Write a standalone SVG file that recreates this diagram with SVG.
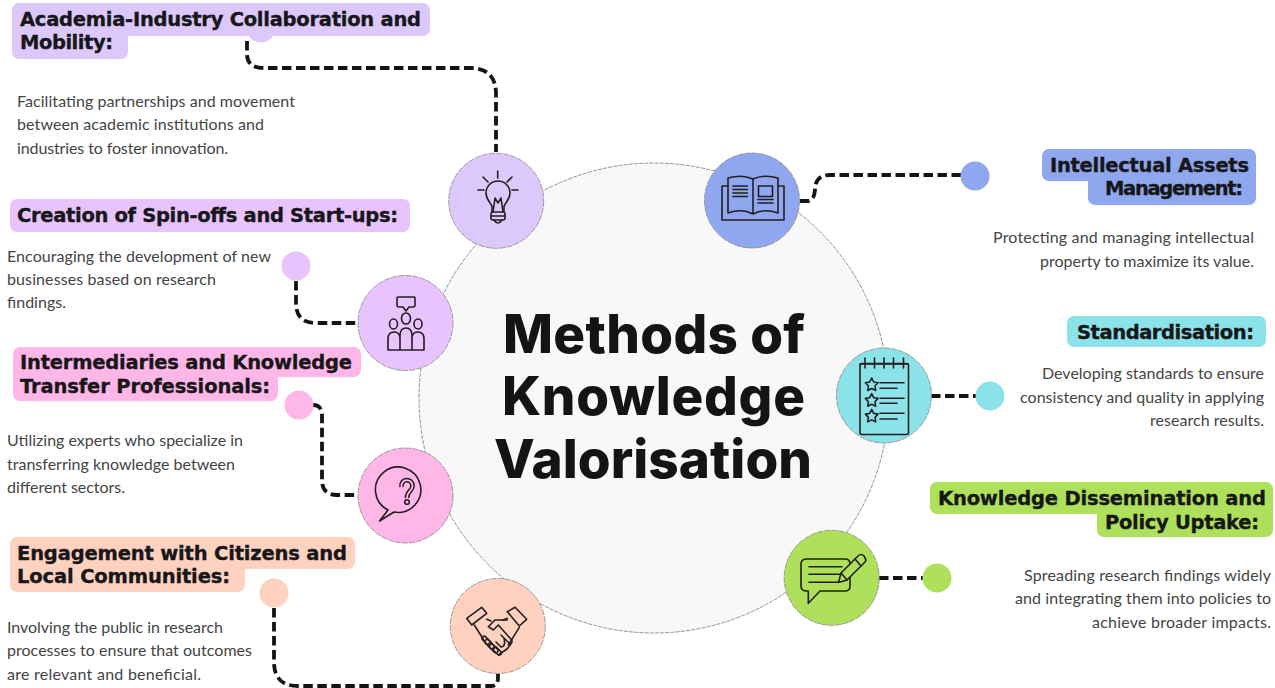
<svg xmlns="http://www.w3.org/2000/svg" width="1275" height="688" viewBox="0 0 1275 688">
<style>
.h{font-family:"DejaVu Sans","Liberation Sans",sans-serif;font-weight:700;font-size:19.5px;fill:#17171a;stroke:#17171a;stroke-width:.35}
.b{font-family:Lato,"Noto Sans",sans-serif;font-weight:400;font-size:16px;fill:#444}
.t{font-family:Inter,"Open Sans","Liberation Sans",sans-serif;font-weight:800;font-size:53px;fill:#141414}
.n{stroke:#888;stroke-width:.8;stroke-dasharray:6 1.2}
.i{fill:none;stroke:#231f20;stroke-width:1.6;stroke-linejoin:round;stroke-linecap:round}
.c{fill:none;stroke:#141414;stroke-width:3.8;stroke-dasharray:9.5 4.5}
</style>
<rect width="1275" height="688" fill="#fff"/>
<circle cx="654" cy="398" r="235" fill="#f8f8f8" stroke="#777" stroke-width=".8" stroke-dasharray="4 1.2"/>
<circle cx="261" cy="28" r="14.5" fill="#dcc8fb"/>
<g id="connectors">
<path class="c" d="M247 41V54Q247 68 264 68H470Q496 68 496 94V152"/>
<path class="c" d="M296 281V303Q296 323 316 323H358"/>
<path class="c" d="M313 405Q322 405 322 416V480Q322 495 337 495H358"/>
<path class="c" d="M274 608V662Q274 686 298 686H491Q498 686 498 678V674"/>
<path class="c" d="M800 201H808Q814 201 815 190Q815 175 830 175H961"/>
<path class="c" d="M931 396H976"/>
<path class="c" d="M879 578H923"/>
</g>
<g id="title">
<text class="t" x="503" y="353" textLength="302">Methods of</text>
<text class="t" x="502" y="415" textLength="303">Knowledge</text>
<text class="t" x="494" y="478" textLength="318">Valorisation</text>
</g>
<g id="academia">
<path fill="#dcc8fb" d="M19 3H423a7 7 0 0 1 7 7V29a7 7 0 0 1-7 7H128V52a7 7 0 0 1-7 7H19a7 7 0 0 1-7-7V10a7 7 0 0 1 7-7Z"/>
<text class="h" x="20" y="26" textLength="401">Academia-Industry Collaboration and</text>
<text class="h" x="20" y="49" textLength="93">Mobility:</text>
<text class="b" x="17" y="107" textLength="278">Facilitating partnerships and movement</text>
<text class="b" x="17" y="130" textLength="247">between academic institutions and</text>
<text class="b" x="17" y="154" textLength="211">industries to foster innovation.</text>
<circle class="n" cx="496.200" cy="200.800" r="47.500" fill="#dcc8fb"/>
<g class="i">
<path d="M497.700 171V178M478 190H484M512 190H518M483 177L488 182M512 177L507 182"/>
<path d="M492 212V207C492 203 486 201 486 193A12 12 0 1 1 510 193C510 201 504 203 504 207V212"/>
<path d="M493 212L495 198L498 203L501 198L503 212"/>
<rect x="491" y="212" width="14" height="8" rx="2"/><path d="M491 216H505M494 220Q498 226 502 220"/>
</g>
</g>
<g id="spinoffs">
<rect x="10" y="199" width="400" height="33" rx="7" fill="#e8c3fd"/>
<text class="h" x="17" y="222" textLength="381">Creation of Spin-offs and Start-ups:</text>
<text class="b" x="7" y="262" textLength="264">Encouraging the development of new</text>
<text class="b" x="7" y="285" textLength="209">businesses based on research</text>
<text class="b" x="7" y="308" textLength="59">findings.</text>
<circle cx="296" cy="266" r="14.5" fill="#e8c3fd"/>
<circle class="n" cx="405.500" cy="323" r="47.500" fill="#e8c3fd"/>
<g class="i">
<path d="M398 297H414Q415 297 415 298V305Q415 307 413 307H409L406 311L403 307H399Q397 307 397 305V298Q397 297 398 297Z"/>
<ellipse cx="406" cy="318.500" rx="4.500" ry="5.500"/><ellipse cx="393.500" cy="324" rx="4" ry="5"/><ellipse cx="418" cy="324" rx="4" ry="5"/>
<path d="M388 350V339Q388 332 394 332Q399 332 400 337V350M412 350V337Q413 332 418 332Q424 332 424 339V350M400 350V336Q400 328 406 328Q412 328 412 336V350M388 350H424"/>
</g>
</g>
<g id="intermediaries">
<path fill="#ffb7e8" d="M20 347H354a7 7 0 0 1 7 7V370a7 7 0 0 1-7 7H278V394a7 7 0 0 1-7 7H20a7 7 0 0 1-7-7V354a7 7 0 0 1 7-7Z"/>
<text class="h" x="20" y="369" textLength="332">Intermediaries and Knowledge</text>
<text class="h" x="20" y="393" textLength="250">Transfer Professionals:</text>
<text class="b" x="7" y="446" textLength="236">Utilizing experts who specialize in</text>
<text class="b" x="7" y="470" textLength="228">transferring knowledge between</text>
<text class="b" x="7" y="493" textLength="118">different sectors.</text>
<circle cx="299" cy="405" r="14.5" fill="#ffb7e8"/>
<circle class="n" cx="405.500" cy="495.500" r="47.500" fill="#ffb7e8"/>
<g class="i">
<path d="M388 510A22.700 22.700 0 1 1 394 512L379.500 521Z"/>
<path d="M401.500 487C400.500 478 412.500 478 412.500 486C412.500 491 407 491 407 498" stroke-width="4.800" stroke-linecap="butt"/>
<path d="M401.500 487C400.500 478 412.500 478 412.500 486C412.500 491 407 491 407 498" stroke="#ffb7e8" stroke-width="1.800" stroke-linecap="butt"/>
<circle cx="407" cy="502" r="2.300"/>
</g>
</g>
<g id="engagement">
<path fill="#ffd2c0" d="M17 537H348a7 7 0 0 1 7 7V562a7 7 0 0 1-7 7H245V585a7 7 0 0 1-7 7H17a7 7 0 0 1-7-7V544a7 7 0 0 1 7-7Z"/>
<text class="h" x="17" y="560" textLength="330">Engagement with Citizens and</text>
<text class="h" x="17" y="583" textLength="213">Local Communities:</text>
<text class="b" x="7" y="633" textLength="216">Involving the public in research</text>
<text class="b" x="7" y="656" textLength="245">processes to ensure that outcomes</text>
<text class="b" x="7" y="680" textLength="194">are relevant and beneficial.</text>
<circle cx="274" cy="593" r="14.5" fill="#ffd2c0"/>
<circle class="n" cx="497.800" cy="626" r="47.500" fill="#ffd2c0"/>
<g class="i">
<path d="M466.700 618.300L481.700 607.300L486.700 613.300L471.700 625Z"/>
<path d="M507.300 611.700L515 607.300L526.700 619.300L519.300 626Z"/>
<path d="M474.300 625L483.300 639.300M519.300 627.300L508.300 645M486.700 619.300L491 621M507.300 618.300L503 620"/>
<path d="M507.300 620H495L488.300 626.700L493.300 630L498.300 625L511.700 640Q513 644 509 643L501 635M504 638Q506 647 501 647L496 642"/>
<rect x="-2" y="-5.500" width="4.300" height="11" rx="2" transform="translate(486.500 641) rotate(-45)"/>
<rect x="-2" y="-6" width="4.300" height="12" rx="2" transform="translate(489.700 644.500) rotate(-45)"/>
<rect x="-2" y="-6" width="4.300" height="12" rx="2" transform="translate(493 648) rotate(-45)"/>
<rect x="-2" y="-5" width="4.300" height="10" rx="2" transform="translate(497 651) rotate(-45)"/>
<path d="M499 654.500L507 649L511 644"/>
</g>
</g>
<g id="intellectual">
<path fill="#8fa7ee" d="M1049 149H1249a7 7 0 0 1 7 7V198a7 7 0 0 1-7 7H1095a7 7 0 0 1-7-7V181H1049a7 7 0 0 1-7-7V156a7 7 0 0 1 7-7Z"/>
<text class="h" x="1050" y="172" textLength="199">Intellectual Assets</text>
<text class="h" x="1105" y="195" textLength="138">Management:</text>
<text class="b" x="993" y="243" textLength="261">Protecting and managing intellectual</text>
<text class="b" x="1040" y="267" textLength="214">property to maximize its value.</text>
<circle cx="975" cy="176" r="14.500" fill="#8fa7ee"/>
<circle class="n" cx="752" cy="200.500" r="47.500" fill="#8fa7ee"/>
<g class="i">
<path d="M728 186H722V220H784V186H778"/>
<path d="M753 214Q742 208 728 213V178Q742 174 753 179Q764 174 778 178V213Q764 208 753 214ZM753 179V214"/>
<path d="M733 186H747.500M733 189.500H747.500M733 193H747.500M733 196.500H747.500"/>
<rect x="758.500" y="186" width="14" height="10.500"/>
<path d="M758 199.500H773M758 203H773"/>
</g>
</g>
<g id="standardisation">
<rect x="1067" y="316" width="199" height="31" rx="7" fill="#8be2e8"/>
<text class="h" x="1077" y="339" textLength="177">Standardisation:</text>
<text class="b" x="1042" y="379" textLength="222">Developing standards to ensure</text>
<text class="b" x="1020" y="403" textLength="244">consistency and quality in applying</text>
<text class="b" x="1150" y="426" textLength="114">research results.</text>
<circle cx="990" cy="396" r="14.500" fill="#8be2e8"/>
<circle class="n" cx="884" cy="395.500" r="47.500" fill="#8be2e8"/>
<g class="i">
<rect x="860" y="363.500" width="48.500" height="71" rx="2"/>
<path d="M865 358V368M874.500 358V368M884 358V368M893.500 358V368M903.500 358V368M860 364H908"/>
<path d="M871.700 378L873.700 382L878 382.700L875 386L875.700 390.500L871.700 388.500L867.700 390.500L868.400 386L865.400 382.700L869.700 382Z"/>
<path d="M871.700 393.700L873.700 397.700L878 398.400L875 401.700L875.700 406.200L871.700 404.200L867.700 406.200L868.400 401.700L865.400 398.400L869.700 397.700Z"/>
<path d="M871.700 409.400L873.700 413.400L878 414.100L875 417.400L875.700 421.900L871.700 419.900L867.700 421.900L868.400 417.400L865.400 414.100L869.700 413.400Z"/>
<path d="M880 382.700H904M880 388.300H897M880 398.300H904M880 403.300H897M880 413.300H904M880 419H897"/>
</g>
</g>
<g id="dissemination">
<path fill="#aee05c" d="M937 482H1266a7 7 0 0 1 7 7V530a7 7 0 0 1-7 7H1104a7 7 0 0 1-7-7V514H937a7 7 0 0 1-7-7V489a7 7 0 0 1 7-7Z"/>
<text class="h" x="938" y="505" textLength="328">Knowledge Dissemination and</text>
<text class="h" x="1105" y="529" textLength="154">Policy Uptake:</text>
<text class="b" x="1024" y="581" textLength="247">Spreading research findings widely</text>
<text class="b" x="1015" y="604" textLength="256">and integrating them into policies to</text>
<text class="b" x="1092" y="628" textLength="179">achieve broader impacts.</text>
<circle cx="937" cy="578" r="14.500" fill="#aee05c"/>
<circle class="n" cx="831.700" cy="577.800" r="47.500" fill="#aee05c"/>
<g class="i" stroke="#33240f">
<path d="M807 559H845Q850 559 850 564V586Q850 591 845 591H820L808.300 603.300V591H807Q801 591 801 586V564Q801 559 807 559Z"/>
<path d="M809 566.700H842M809 574.300H842M809 582.300H838"/>
<path d="M838.500 582.500L841 573L858 556Q861 553 864 556L865 558Q867 561 864 563L847 580Z" fill="#aee05c"/>
<path d="M841 573L847 580M855 559L861 566"/>
</g>
</g>
</svg>
